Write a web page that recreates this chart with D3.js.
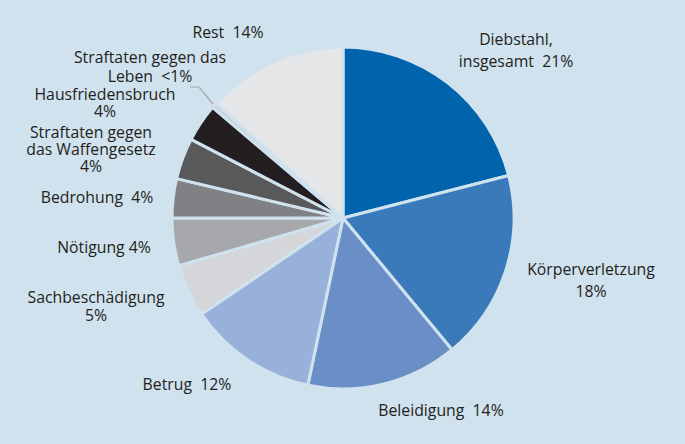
<!DOCTYPE html>
<html>
<head>
<meta charset="utf-8">
<script src="https://cdn.jsdelivr.net/npm/d3@7"></script>
<style>
  body { margin: 0; background: #d0e2ee; }
  svg { display: block; }
  .lbl { font-family: "Open Sans", sans-serif; font-size: 15.8px; fill: #231f20; }
</style>
</head>
<body>
<div id="chart"></div>
<script>
'use strict';

// categories in drawing order, clockwise from 12 o'clock
var categories = ['Diebstahl', 'Körperverletzung', 'Beleidigung', 'Betrug', 'Sachbeschädigung',
  'Nötigung', 'Bedrohung', 'Waffengesetz', 'Hausfriedensbruch', 'Leben', 'Rest'];
// shares in percent
var shares = [21, 18, 14.3, 12.2, 5, 4.5, 3.7, 3.9, 3.6, 0.5, 13.3];
// label text lines per category
var labelLines = [
  ['Diebstahl,', 'insgesamt  21%'],
  ['Körperverletzung', '18%'],
  ['Beleidigung  14%'],
  ['Betrug  12%'],
  ['Sachbeschädigung', '5%'],
  ['Nötigung 4%'],
  ['Bedrohung  4%'],
  ['Straftaten gegen', 'das Waffengesetz', '4%'],
  ['Hausfriedensbruch', '4%'],
  ['Straftaten gegen das', 'Leben  <1%'],
  ['Rest  14%']
];

var colors = ['#0064ad', '#3a7aba', '#6a8fc6', '#98b1da', '#d4d6d9',
  '#a6a8ab', '#808184', '#58595b', '#231f20', '#c4d3de', '#e5e6e8'];

// label anchors (middle of first baseline) and line spacing
var labelPos = [
  [516, 45, 22], [591, 275, 22], [441, 416, 18], [187, 390, 18], [96, 303, 18],
  [104, 253, 18], [97, 203, 18], [91, 138, 17], [105, 100, 17], [150, 63, 19], [228, 38, 18]
];

var graph = { width: 685, height: 444, cx: 343, cy: 218, r: 171 };

var svg = d3.select('#chart').append('svg')
  .attr('width', graph.width)
  .attr('height', graph.height);

svg.append('rect')
  .attr('width', graph.width)
  .attr('height', graph.height)
  .attr('fill', '#d0e2ee');

var pie = d3.pie().sort(null).value(function(d) { return d; });
var arcs = pie(shares);

var arc = d3.arc().innerRadius(0).outerRadius(graph.r);

var chartG = svg.append('g')
  .attr('transform', 'translate(' + graph.cx + ',' + graph.cy + ')');

chartG.selectAll('path.slice')
  .data(arcs)
  .enter().append('path')
  .attr('class', 'slice')
  .attr('d', arc)
  .attr('fill', function(d, i) { return colors[i]; })
  .attr('stroke', '#d0e2ee')
  .attr('stroke-width', 3)
  .attr('stroke-linejoin', 'round');

// leader line for the tiny slice
var tiny = arcs[9];
var mid = (tiny.startAngle + tiny.endAngle) / 2;
var ex = graph.cx + Math.sin(mid) * (graph.r + 2);
var ey = graph.cy - Math.cos(mid) * (graph.r + 2);
svg.append('path')
  .attr('d', d3.line()([[190, 87], [199, 87], [ex, ey]]))
  .attr('fill', 'none')
  .attr('stroke', '#a3a6a9')
  .attr('stroke-width', 1.2);

var labels = svg.selectAll('text.lbl')
  .data(labelLines)
  .enter().append('text')
  .attr('class', 'lbl')
  .attr('text-anchor', 'middle')
  .attr('x', function(d, i) { return labelPos[i][0]; })
  .attr('y', function(d, i) { return labelPos[i][1]; });

labels.selectAll('tspan')
  .data(function(d, i) { return d.map(function(s) { return { s: s, i: i }; }); })
  .enter().append('tspan')
  .attr('x', function(d) { return labelPos[d.i][0]; })
  .attr('dy', function(d, j) { return j === 0 ? 0 : labelPos[d.i][2]; })
  .style('white-space', 'pre')
  .text(function(d) { return d.s; });
</script>
</body>
</html>
